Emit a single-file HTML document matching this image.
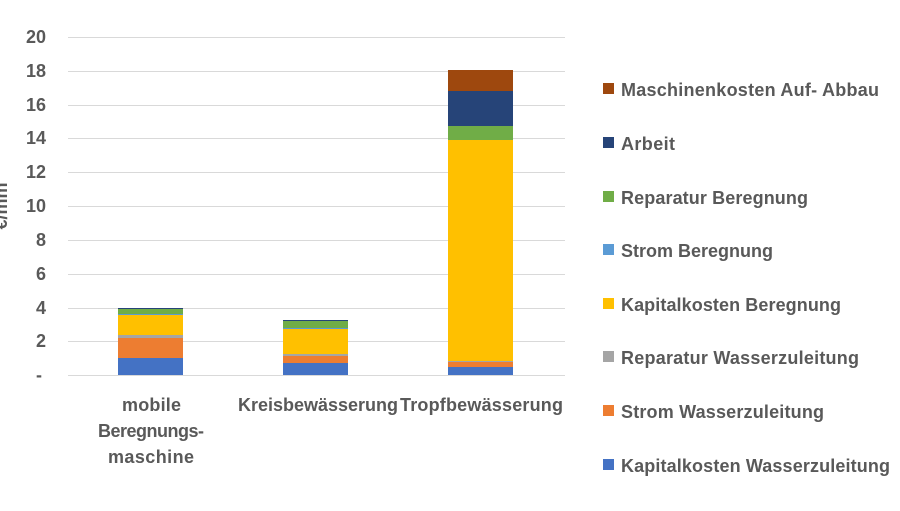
<!DOCTYPE html>
<html><head><meta charset="utf-8"><style>
body{margin:0;background:#fff;width:900px;height:506px;overflow:hidden;font-family:"Liberation Sans",sans-serif;}
svg text{font-family:"Liberation Sans",sans-serif;font-weight:bold;fill:#595959;}
</style></head><body>
<svg width="900" height="506" viewBox="0 0 900 506">
<g stroke="#d9d9d9" stroke-width="1">
<line x1="68" x2="565" y1="37.5" y2="37.5"/><line x1="68" x2="565" y1="71.5" y2="71.5"/><line x1="68" x2="565" y1="105.5" y2="105.5"/><line x1="68" x2="565" y1="138.5" y2="138.5"/><line x1="68" x2="565" y1="172.5" y2="172.5"/><line x1="68" x2="565" y1="206.5" y2="206.5"/><line x1="68" x2="565" y1="240.5" y2="240.5"/><line x1="68" x2="565" y1="274.5" y2="274.5"/><line x1="68" x2="565" y1="308.5" y2="308.5"/><line x1="68" x2="565" y1="341.5" y2="341.5"/><line x1="68" x2="565" y1="375.5" y2="375.5"/>
</g>
<g font-size="18" text-anchor="end">
<text x="46" y="43">20</text><text x="46" y="77">18</text><text x="46" y="111">16</text><text x="46" y="144">14</text><text x="46" y="178">12</text><text x="46" y="212">10</text><text x="46" y="246">8</text><text x="46" y="280">6</text><text x="46" y="314">4</text><text x="46" y="347">2</text><text x="42" y="381">-</text>
</g>
<text transform="translate(7,206) rotate(-90)" font-size="18" text-anchor="middle">€/mm</text>
<rect x="118" y="358" width="65" height="17" fill="#4472c4"/>
<rect x="118" y="338" width="65" height="20" fill="#ed7d31"/>
<rect x="118" y="335" width="65" height="3" fill="#a5a5a5"/>
<rect x="118" y="315" width="65" height="20" fill="#ffc000"/>
<rect x="118" y="314" width="65" height="1" fill="#5b9bd5"/>
<rect x="118" y="309" width="65" height="5" fill="#70ad47"/>
<rect x="118" y="308" width="65" height="1" fill="#264478"/>
<rect x="283" y="363" width="65" height="12" fill="#4472c4"/>
<rect x="283" y="356" width="65" height="7" fill="#ed7d31"/>
<rect x="283" y="354" width="65" height="2" fill="#a5a5a5"/>
<rect x="283" y="329" width="65" height="25" fill="#ffc000"/>
<rect x="283" y="328" width="65" height="1" fill="#5b9bd5"/>
<rect x="283" y="321" width="65" height="7" fill="#70ad47"/>
<rect x="283" y="320" width="65" height="1" fill="#264478"/>
<rect x="448" y="367" width="65" height="8" fill="#4472c4"/>
<rect x="448" y="362" width="65" height="5" fill="#ed7d31"/>
<rect x="448" y="361" width="65" height="1" fill="#a5a5a5"/>
<rect x="448" y="140" width="65" height="221" fill="#ffc000"/>
<rect x="448" y="126" width="65" height="14" fill="#70ad47"/>
<rect x="448" y="91" width="65" height="35" fill="#264478"/>
<rect x="448" y="70" width="65" height="21" fill="#9e480e"/>
<g font-size="18">
<text x="122" y="411" textLength="59">mobile</text><text x="98" y="437" textLength="106">Beregnungs-</text><text x="108" y="463" textLength="86">maschine</text>
<text x="238" y="411" textLength="160">Kreisbewässerung</text>
<text x="400" y="411" textLength="163">Tropfbewässerung</text>
</g>
<g font-size="18">
<rect x="603" y="83" width="11" height="11" fill="#9e480e"/><text x="621" y="96" textLength="258">Maschinenkosten Auf- Abbau</text>
<rect x="603" y="137" width="11" height="11" fill="#264478"/><text x="621" y="150" textLength="54">Arbeit</text>
<rect x="603" y="191" width="11" height="11" fill="#70ad47"/><text x="621" y="204" textLength="187">Reparatur Beregnung</text>
<rect x="603" y="244" width="11" height="11" fill="#5b9bd5"/><text x="621" y="257" textLength="152">Strom Beregnung</text>
<rect x="603" y="298" width="11" height="11" fill="#ffc000"/><text x="621" y="311" textLength="220">Kapitalkosten Beregnung</text>
<rect x="603" y="351" width="11" height="11" fill="#a5a5a5"/><text x="621" y="364" textLength="238">Reparatur Wasserzuleitung</text>
<rect x="603" y="405" width="11" height="11" fill="#ed7d31"/><text x="621" y="418" textLength="203">Strom Wasserzuleitung</text>
<rect x="603" y="459" width="11" height="11" fill="#4472c4"/><text x="621" y="472" textLength="269">Kapitalkosten Wasserzuleitung</text>
</g>
</svg>
</body></html>
